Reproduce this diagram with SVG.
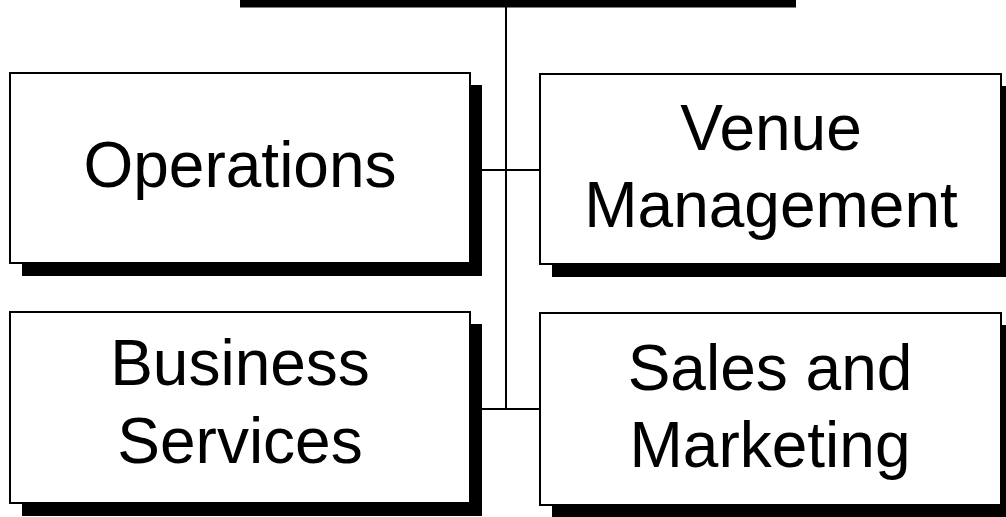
<svg xmlns="http://www.w3.org/2000/svg" width="1006" height="517" viewBox="0 0 1006 517">
<style>
.box{fill:#fff;stroke:#000;stroke-width:2}
.shadow{fill:#000}
.conn{stroke:#000;stroke-width:2;fill:none}
.lbl{font-family:"Liberation Sans",Arial,sans-serif;font-size:64px;fill:#000;text-anchor:middle}
</style>
<rect width="1006" height="517" fill="#fff"/>
<g id="connectors">
<line class="conn" x1="506" y1="6" x2="506" y2="409"/>
<line class="conn" x1="470" y1="170" x2="541" y2="170"/>
<line class="conn" x1="470" y1="409" x2="541" y2="409"/>
</g>
<g id="top">
<rect class="shadow" x="240" y="-6" width="556" height="13.5"/>
</g>
<g id="operations">
<rect class="shadow" x="22" y="85" width="460" height="191"/>
<rect class="box" x="10" y="73" width="460" height="190"/>
<text class="lbl" x="240" y="187">Operations</text>
</g>
<g id="venue">
<rect class="shadow" x="552" y="86" width="460" height="191"/>
<rect class="box" x="540" y="74" width="461" height="190"/>
<text class="lbl" x="771" y="150">Venue</text>
<text class="lbl" x="771" y="227">Management</text>
</g>
<g id="business">
<rect class="shadow" x="22" y="324" width="460" height="192"/>
<rect class="box" x="10" y="312" width="460" height="191"/>
<text class="lbl" x="240" y="385">Business</text>
<text class="lbl" x="240" y="463">Services</text>
</g>
<g id="sales">
<rect class="shadow" x="552" y="325" width="460" height="200"/>
<rect class="box" x="540" y="313" width="461" height="192"/>
<text class="lbl" x="770" y="390">Sales and</text>
<text class="lbl" x="770" y="467">Marketing</text>
</g>
</svg>
